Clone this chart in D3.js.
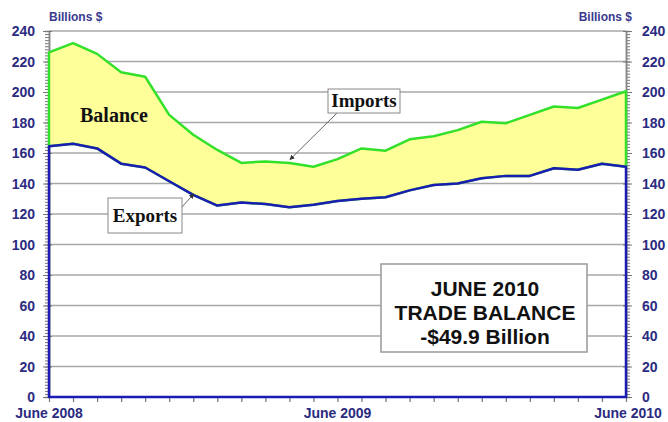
<!DOCTYPE html>
<html>
<head>
<meta charset="utf-8">
<script src="https://cdn.jsdelivr.net/npm/d3@7"></script>
<style>
  body { margin: 0; background: #fff; }
  svg text { font-family: Arial, "Liberation Sans", sans-serif; }
  svg text.serif { font-family: "Liberation Serif", "Times New Roman", serif; }
</style>
</head>
<body>
<div id="chart"></div>
<script>
// Monthly trade, June 2008 .. June 2010 (billions of dollars)
const months = ["2008-06","2008-07","2008-08","2008-09","2008-10","2008-11","2008-12",
  "2009-01","2009-02","2009-03","2009-04","2009-05","2009-06","2009-07","2009-08",
  "2009-09","2009-10","2009-11","2009-12","2010-01","2010-02","2010-03","2010-04",
  "2010-05","2010-06"]
const imports = [226, 232, 225, 213, 210, 185, 172, 162, 153.5, 154.5, 153.5, 151, 156,
  163, 161.5, 169, 171, 175, 180.5, 179.5, 185, 190.5, 189.5, 195, 200.5]
const exports = [164.5, 166, 163, 153, 150.5, 141.5, 132.5, 125.5, 127.5, 126.5, 124.5, 126, 128.5,
  130, 131, 135.5, 139, 140, 143.5, 145, 145, 150, 149, 153, 151]
const yTicks = [0, 20, 40, 60, 80, 100, 120, 140, 160, 180, 200, 220, 240]
const xLabels = [["2008-06", "June 2008"], ["2009-06", "June 2009"], ["2010-06", "June 2010"]]
const boxLines = ["JUNE 2010", "TRADE BALANCE", "-$49.9 Billion"]

const width = 668, height = 422
const margin = {top: 31, right: 42, bottom: 25, left: 49}
const w = width - margin.left - margin.right
const h = height - margin.top - margin.bottom

const navy = "#2b2b80", green = "#33e02a", blue = "#1c1cb4", grid = "#a8a8a8"

const svg = d3.select("#chart").append("svg")
  .attr("width", width).attr("height", height)
  .append("g")
  .attr("transform", `translate(${margin.left},${margin.top})`)

const x = d3.scalePoint().domain(months).range([0, w])
const y = d3.scaleLinear().domain([0, 240]).range([h, 0])

const data = months.map((m, i) => ({m, imp: imports[i], exp: exports[i]}))

// gridlines
svg.append("g").selectAll("line")
  .data(yTicks.filter(d => d > 0))
  .join("line")
    .attr("x1", 0).attr("x2", w)
    .attr("y1", d => y(d)).attr("y2", d => y(d))
    .attr("stroke", grid).attr("stroke-width", 1.5)

// minor + major ticks, left and right
const minor = d3.range(0, 241, 2)
const axL = svg.append("g")
axL.call(d3.axisLeft(y).tickValues(minor).tickSize(4).tickFormat(""))
axL.append("g").call(d3.axisLeft(y).tickValues(yTicks).tickSizeOuter(0).tickFormat(""))
  .selectAll(".tick line").attr("x1", -6).attr("x2", 3)
const axR = svg.append("g").attr("transform", `translate(${w},0)`)
axR.call(d3.axisRight(y).tickValues(minor).tickSize(4).tickFormat(""))
axR.append("g").call(d3.axisRight(y).tickValues(yTicks).tickSizeOuter(0).tickFormat(""))
  .selectAll(".tick line").attr("x1", -3).attr("x2", 6)
svg.selectAll(".domain").attr("stroke", "#888").attr("stroke-width", 1.5)
svg.selectAll(".tick line").attr("stroke", "#777")

// tick labels
svg.append("g").selectAll("text").data(yTicks).join("text")
  .attr("x", -14).attr("y", d => y(d) + 5)
  .attr("text-anchor", "end").attr("font-size", 14).attr("font-weight", "bold")
  .attr("fill", navy).text(d => d)
svg.append("g").selectAll("text").data(yTicks).join("text")
  .attr("x", w + 16).attr("y", d => y(d) + 5)
  .attr("text-anchor", "start").attr("font-size", 14).attr("font-weight", "bold")
  .attr("fill", navy).text(d => d)

svg.append("text").attr("x", 0).attr("y", -10).attr("font-size", 12).attr("font-weight", "bold")
  .attr("fill", "#3a3a8e").text("Billions $")
svg.append("text").attr("x", w + 6).attr("y", -10).attr("text-anchor", "end").attr("font-size", 12)
  .attr("font-weight", "bold").attr("fill", "#3a3a8e").text("Billions $")

// x ticks
svg.append("g").attr("transform", `translate(0,${h})`)
  .call(d3.axisBottom(x).tickSize(5).tickFormat(""))
  .call(g => g.select(".domain").remove())
  .selectAll("line").attr("stroke", "#777").attr("stroke-width", 1.2)

svg.append("g").selectAll("text").data(xLabels).join("text")
  .attr("x", d => x(d[0]) + (d[0] === "2010-06" ? 2 : 0)).attr("y", h + 21)
  .attr("text-anchor", "middle").attr("font-size", 14).attr("font-weight", "bold")
  .attr("fill", navy).text(d => d[1])

// balance band
const band = d3.area().x(d => x(d.m)).y0(d => y(d.exp)).y1(d => y(d.imp))
svg.append("path").datum(data).attr("d", band)
  .attr("fill", "#ffff99").attr("stroke", green).attr("stroke-width", 2.5)
  .attr("stroke-linejoin", "round")

// exports outline down to zero
const expArea = d3.area().x(d => x(d.m)).y0(h).y1(d => y(d.exp))
svg.append("path").datum(data).attr("d", expArea)
  .attr("fill", "none").attr("stroke", blue).attr("stroke-width", 2.5)
  .attr("stroke-linejoin", "round")

// callouts
svg.append("text").attr("class", "serif").attr("x", 31).attr("y", 91)
  .attr("font-size", 20).attr("font-weight", "bold").attr("fill", "#111").text("Balance")

svg.append("defs").append("marker").attr("id", "arr")
  .attr("viewBox", "0 0 10 10").attr("refX", 9).attr("refY", 5)
  .attr("markerWidth", 5).attr("markerHeight", 5).attr("orient", "auto")
  .append("path").attr("d", "M0,0L10,5L0,10z").attr("fill", "#333")

function callout(label, bx, by, bw, bh, fromX, fromY, mi, val) {
  svg.append("line").attr("x1", fromX).attr("y1", fromY)
    .attr("x2", x(months[mi]) + 0.5).attr("y2", y(val) - 1)
    .attr("stroke", "#666").attr("stroke-width", 1).attr("marker-end", "url(#arr)")
  svg.append("rect").attr("x", bx).attr("y", by).attr("width", bw).attr("height", bh)
    .attr("fill", "#fff").attr("stroke", "#888").attr("stroke-width", 1)
  svg.append("text").attr("class", "serif").attr("x", bx + bw / 2).attr("y", by + bh / 2 + 6)
    .attr("text-anchor", "middle")
    .attr("font-size", 19).attr("font-weight", "bold").attr("fill", "#111").text(label)
}
callout("Imports", 279, 58, 72, 24, 288, 82, 10, 155)
callout("Exports", 59, 167, 74, 35, 133, 176, 6, 132.5)

// summary box
const bx = 332, by = 233, bw = 206, bh = 88
svg.append("rect").attr("x", bx).attr("y", by).attr("width", bw).attr("height", bh)
  .attr("fill", "#fff").attr("stroke", "#999").attr("stroke-width", 1.5)
svg.append("g").selectAll("text").data(boxLines).join("text")
  .attr("x", bx + bw / 2 + 1).attr("y", (d, i) => by + 32 + i * 24)
  .attr("text-anchor", "middle").attr("font-size", 21).attr("font-weight", "bold")
  .attr("fill", "#111").text(d => d)
</script>
</body>
</html>
